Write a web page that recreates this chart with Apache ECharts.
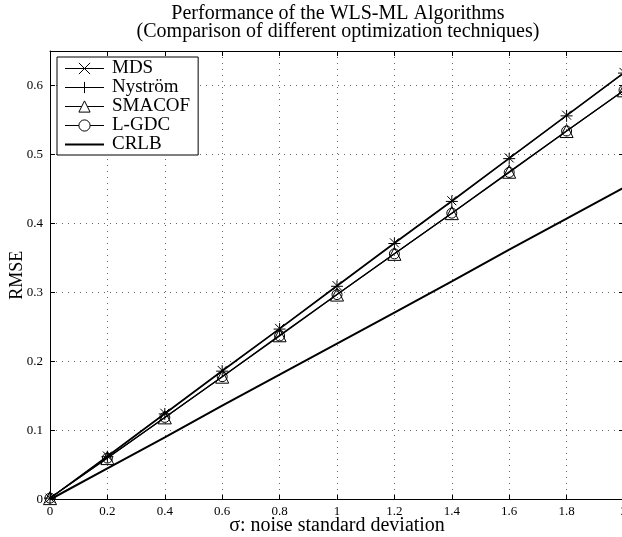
<!DOCTYPE html>
<html>
<head>
<meta charset="utf-8">
<script src="https://cdn.jsdelivr.net/npm/echarts@6/dist/echarts.min.js"></script>
<style>html,body{margin:0;padding:0;background:#fff;}#c{width:622px;height:537px;}</style>
</head>
<body>
<div id="c"></div>
<script>
// ---- data ----
const sigma   = [0, 0.2, 0.4, 0.6, 0.8, 1.0, 1.2, 1.4, 1.6, 1.8, 2.0];
const mds     = [0.002, 0.063, 0.125, 0.187, 0.248, 0.310, 0.372, 0.433, 0.495, 0.557, 0.619];
const nystrom = [0.002, 0.062, 0.124, 0.186, 0.247, 0.309, 0.371, 0.432, 0.494, 0.556, 0.618];
const smacof  = [0.002, 0.060, 0.119, 0.178, 0.238, 0.297, 0.356, 0.415, 0.475, 0.534, 0.593];
const lgdc    = [0.002, 0.060, 0.119, 0.178, 0.237, 0.297, 0.356, 0.415, 0.474, 0.534, 0.593];
const crlb    = [0.000, 0.045, 0.090, 0.136, 0.181, 0.226, 0.271, 0.316, 0.362, 0.407, 0.452];
const seriesNames = ['MDS', 'Nyström', 'SMACOF', 'L-GDC', 'CRLB'];
const titleLines = ['Performance of the WLS-ML Algorithms', '(Comparison of different optimization techniques)'];
const xName = 'σ: noise standard deviation';
const yName = 'RMSE';

const FONT = '"Liberation Serif", "Times New Roman", serif';
const pairs = ys => sigma.map((s, i) => [s, ys[i]]);
const CROSS = 'path://M0 0L10 10M10 0L0 10';
const PLUS = 'path://M5 0L5 10M0 5L10 5';

const chart = echarts.init(document.getElementById('c'), null, {renderer: 'canvas'});

const hollow = {color: 'rgba(255,255,255,0)', borderColor: '#000', borderWidth: 1};
const algLine = {color: '#000', width: 1.2};

function mkSeries(name, ys, symbol, size, line) {
  return {
    name: name, type: 'line', data: pairs(ys),
    xAxisIndex: 0, yAxisIndex: 0,
    symbol: symbol, symbolSize: size, showAllSymbol: true,
    lineStyle: line, itemStyle: hollow, color: '#000',
    emphasis: {disabled: true}, animation: false
  };
}

const baseX = {
  type: 'value', min: 0, max: 2, interval: 0.2,
  axisLine: {show: true, onZero: false, lineStyle: {color: '#000', width: 1}},
  axisTick: {show: true, inside: true, length: 5, lineStyle: {color: '#000'}},
};
const baseY = {
  type: 'value', min: 0, max: 0.65, interval: 0.1,
  axisLine: {show: true, onZero: false, lineStyle: {color: '#000', width: 1}},
  axisTick: {show: true, inside: true, length: 5, lineStyle: {color: '#000'}},
};
const grid = {type: [1, 5], color: '#666', width: 1};
const legendItem = {color: '#fff', borderColor: '#000', borderWidth: 1};

chart.setOption({
  animation: false,
  backgroundColor: '#fff',
  grid: {left: 50, right: -2, top: 51, bottom: 37.5, containLabel: false, outerBoundsMode: 'none'},
  graphic: [{
    type: 'text', x: 338, y: 5, silent: true,
    style: {text: titleLines.join('\n'), fontFamily: FONT, fontSize: 20, lineHeight: 18,
            fill: '#000', align: 'center', verticalAlign: 'top', textAlign: 'center', textVerticalAlign: 'top'}
  }],
  legend: {
    orient: 'vertical', left: 57, top: 57,
    backgroundColor: '#fff', borderColor: '#000', borderWidth: 1, borderRadius: 0,
    padding: [2, 8, 1, 7], itemWidth: 39, itemHeight: 14, itemGap: 0,
    selectedMode: false,
    textStyle: {fontFamily: FONT, fontSize: 19, color: '#000', padding: [0, 0, 0, 3]},
    data: [
      {name: 'MDS', itemStyle: legendItem, lineStyle: {color: '#000', width: 1}},
      {name: 'Nyström', itemStyle: legendItem, lineStyle: {color: '#000', width: 1}},
      {name: 'SMACOF', itemStyle: legendItem, lineStyle: {color: '#000', width: 1}},
      {name: 'L-GDC', itemStyle: legendItem, lineStyle: {color: '#000', width: 1}},
      {name: 'CRLB', itemStyle: {color: 'rgba(0,0,0,0)', borderColor: 'rgba(0,0,0,0)', borderWidth: 0}, lineStyle: {color: '#000', width: 2}}
    ]
  },
  xAxis: [
    Object.assign({}, baseX, {
      position: 'bottom', name: xName, nameLocation: 'middle', nameGap: 16, nameMoveOverlap: false,
      nameTextStyle: {fontFamily: FONT, fontSize: 20, color: '#000'},
      axisLabel: {show: true, margin: 6, fontFamily: FONT, fontSize: 13, color: '#000'},
      splitLine: {show: true, lineStyle: grid}
    }),
    Object.assign({}, baseX, {
      position: 'top', axisLabel: {show: false}, splitLine: {show: false}
    })
  ],
  yAxis: [
    Object.assign({}, baseY, {
      position: 'left', name: yName, nameLocation: 'middle', nameGap: 24, nameRotate: 90, nameMoveOverlap: false,
      nameTextStyle: {fontFamily: FONT, fontSize: 18, color: '#000'},
      axisLabel: {show: true, margin: 7, fontFamily: FONT, fontSize: 13, color: '#000', showMaxLabel: false},
      splitLine: {show: true, lineStyle: grid}
    }),
    Object.assign({}, baseY, {
      position: 'right', axisLabel: {show: false}, splitLine: {show: false}
    })
  ],
  series: [
    mkSeries(seriesNames[0], mds, CROSS, 9, algLine),
    mkSeries(seriesNames[1], nystrom, PLUS, 12, algLine),
    mkSeries(seriesNames[2], smacof, 'triangle', 13, algLine),
    mkSeries(seriesNames[3], lgdc, 'circle', 10, algLine),
    Object.assign(mkSeries(seriesNames[4], crlb, 'none', 0, {color: '#000', width: 2}), {showSymbol: false})
  ]
});
</script>
</body>
</html>
